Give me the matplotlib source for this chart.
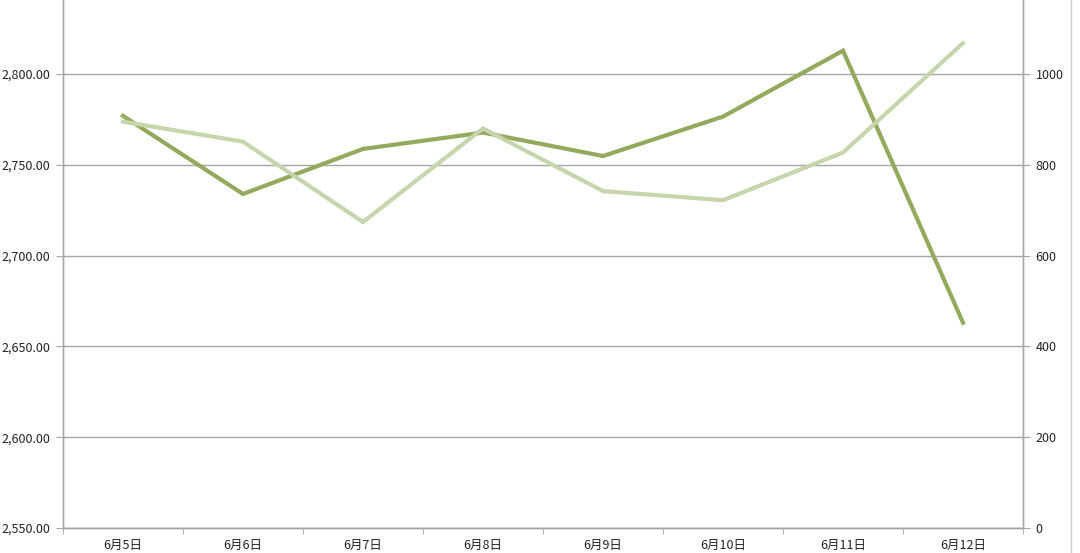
import matplotlib.pyplot as plt
from matplotlib.lines import Line2D

plt.rcParams['font.family'] = ['Noto Sans CJK JP', 'DejaVu Sans']

dates = ["6月5日", "6月6日", "6月7日", "6月8日", "6月9日", "6月10日", "6月11日", "6月12日"]
price = [2776.9, 2733.9, 2758.7, 2767.7, 2754.8, 2776.5, 2812.8, 2663.0]
volume = [895, 851, 674, 880, 742, 722, 827, 1068]
left_ticks = [2550, 2600, 2650, 2700, 2750, 2800]
right_ticks = [0, 200, 400, 600, 800, 1000]

dark = '#93a95c'
light = '#c7d5ac'
grid = '#a6a6a6'

fig = plt.figure(figsize=(10.8, 5.53), dpi=100)
ax = fig.add_axes([63 / 1080, 25 / 553, 960 / 1080, 528 / 553])
ax2 = ax.twinx()

x = range(len(dates))
ax.plot(x, price, color=dark, lw=3.0, solid_joinstyle='miter', zorder=3)
ax2.plot(x, volume, color=light, lw=3.0, solid_joinstyle='miter', zorder=2)

ax.set_xlim(-0.5, len(dates) - 0.5)
ax.set_ylim(2550, 2840.7)
ax2.set_ylim(0, 1163)

ax.set_yticks(left_ticks)
ax.set_yticklabels([f"{v:,.2f}" for v in left_ticks])
ax2.set_yticks(right_ticks)
ax2.set_yticklabels([str(v) for v in right_ticks])
ax.yaxis.grid(True, color=grid, lw=1.0)
ax.set_axisbelow(True)

ax.set_xticks(list(x))
ax.set_xticklabels(dates)
ax.set_xticks([i - 0.5 for i in range(len(dates) + 1)], minor=True)
ax.tick_params(axis='x', which='major', length=0, pad=8, labelsize=9, colors='#222222')
ax.tick_params(axis='x', which='minor', length=4, color=grid, direction='out')
ax.tick_params(axis='y', length=5, color=grid, labelsize=9, labelcolor='#222222', pad=4)
ax2.tick_params(axis='y', length=5, color=grid, labelsize=9, labelcolor='#222222', pad=4)

for a in (ax, ax2):
    a.spines['top'].set_visible(False)
    for s in ('left', 'right', 'bottom'):
        a.spines[s].set_color(grid)
        a.spines[s].set_linewidth(1.0)

# spreadsheet border at the far right of the screenshot
fig.add_artist(Line2D([1070.5 / 1080, 1070.5 / 1080], [0, 1], color='#cfcfcf', lw=1.0))

fig.savefig('out.png', dpi=100, facecolor='white')
